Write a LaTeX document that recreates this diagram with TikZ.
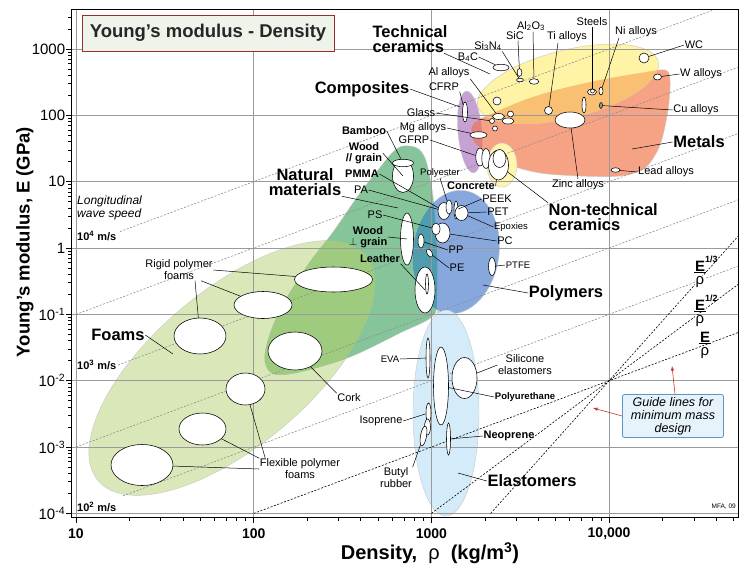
\documentclass[tikz,border=0pt]{standalone}
\usepackage{amsmath}
\usepackage{fontspec}
\setmainfont{Liberation Sans}
\usepackage{xcolor}
\usetikzlibrary{arrows}
\usetikzlibrary{shapes.geometric}
\usetikzlibrary{positioning}

\definecolor{foamc}{HTML}{DAE8B9}
\definecolor{natc}{HTML}{86C49A}
\definecolor{foamnatc}{HTML}{9ECB7E}
\definecolor{polyc}{HTML}{86A8DD}
\definecolor{polynatc}{HTML}{4E9DAE}
\definecolor{elastc}{HTML}{D4ECF9}
\definecolor{compc}{HTML}{C6A2D4}
\definecolor{metc}{HTML}{F6A385}
\definecolor{compmetc}{HTML}{E0807F}
\definecolor{techc}{HTML}{FFF3A6}
\definecolor{techmetc}{HTML}{F9BF72}
\definecolor{ntcc}{HTML}{FFF4B0}
\definecolor{gridc}{HTML}{9A9A9A}
\definecolor{titlec}{HTML}{EEF4EA}
\definecolor{titleb}{HTML}{9B2C2C}
\definecolor{guidec}{HTML}{E6F3FA}
\definecolor{guideb}{HTML}{5E95C5}
\definecolor{arrowc}{HTML}{C0392B}

% envelopes (pixel coordinates)
\newcommand{\foamenv}{(232,368) circle [x radius=175pt, y radius=78pt, rotate=40]}
\newcommand{\natenv}{plot[smooth cycle, tension=0.55] coordinates {(403,146) (417,148) (425,158) (430,178) (434,205) (437,250) (437,295) (433,316) (400,333) (350,357) (300,372) (274,374) (265,362) (268,340) (281,308) (307,266) (333,232) (360,193) (382,165) (393,152)}}
\newcommand{\polyenv}{(456,252) circle [x radius=43pt, y radius=62pt, rotate=-8]}
\newcommand{\elastenv}{(446,413) circle [x radius=33pt, y radius=103pt]}
\newcommand{\compenv}{(470,132) circle [x radius=12pt, y radius=41pt, rotate=5]}
\newcommand{\metenv}{plot[smooth cycle, tension=0.5] coordinates {(473,124) (500,110) (530,98) (560,89) (600,80) (640,73) (665,70) (670,80) (668,110) (660,145) (645,168) (620,176) (580,176) (540,173) (510,165) (488,152) (474,142)}}
\newcommand{\techenv}{(568,84) circle [x radius=93pt, y radius=34pt, rotate=14]}
\newcommand{\ntcenv}{(502,165) circle [x radius=15pt, y radius=22pt]}

\tikzset{wh/.style 2 args={minimum width=#1pt, minimum height=#2pt}}

\begin{document}
\begin{tikzpicture}[x=1pt,y=-1pt]
	%\draw[help lines] (0,0) grid (751,573);
	\useasboundingbox (0,0) rectangle (751,573);

	\tikzstyle{env} = [draw=black!22, line width=0.4pt]
	\tikzstyle{gridl} = [gridc, line width=0.7pt]
	\tikzstyle{axisl} = [black, line width=0.7pt]
	\tikzstyle{wave} = [black!45, line width=0.6pt, dash pattern=on 2pt off 1.6pt]
	\tikzstyle{guide} = [black, line width=0.6pt, dash pattern=on 2pt off 1.6pt]
	\tikzstyle{bub} = [ellipse, draw, fill=white, line width=0.55pt, inner sep=0pt]
	\tikzstyle{lead} = [line width=0.5pt]
	\tikzstyle{lab} = [inner sep=0.5pt, align=center, font=\fontsize{11}{12}\selectfont]
	\tikzstyle{slab} = [lab, font=\fontsize{9.5}{10}\selectfont]
	\tikzstyle{blab} = [lab, font=\bfseries\fontsize{11}{11.5}\selectfont]
	\tikzstyle{fam} = [inner sep=0.5pt, align=left, font=\bfseries\fontsize{16.5}{15}\selectfont]
	\tikzstyle{enum} = [fill=white, inner sep=0.5pt, font=\bfseries\fontsize{15}{15}\selectfont]
	\tikzstyle{eden} = [fill=white, inner sep=0.5pt, font=\fontsize{15}{15}\selectfont]
	\tikzstyle{ebar} = [line width=0.9pt]
	\tikzstyle{redarr} = [->, >=latex, arrowc, line width=0.6pt]

	% material envelopes
	\fill[foamc, env] \foamenv;
	\fill[natc, env] \natenv;
	\begin{scope}
		\clip \foamenv;
		\fill[foamnatc] \natenv;
	\end{scope}
	\fill[polyc, env] \polyenv;
	\begin{scope}
		\clip \polyenv;
		\fill[polynatc] \natenv;
	\end{scope}
	\fill[elastc, env] \elastenv;
	\fill[compc, env] \compenv;
	\fill[metc, env] \metenv;
	\begin{scope}
		\clip \compenv;
		\fill[compmetc] \metenv;
	\end{scope}
	\fill[techc, env] \techenv;
	\begin{scope}
		\clip \techenv;
		\fill[techmetc] \metenv;
	\end{scope}
	\fill[ntcc, env] \ntcenv;

	% axes, grid and guide lines in log units
	\begin{scope}[shift={(-101.7,248)}, x=177.7pt, y=66.35pt]
		\foreach \l in {1,...,4} \draw[gridl] (\l,-4.069) -- (\l,3.5945);
		\foreach \m in {-4,...,3} \draw[gridl] (0.972,\m) -- (4.7254,\m);

		\draw[wave] (1.2476,0.2476) -- (4.5945,3.5945);
		\draw[wave] (1,-1) -- (4.7254,2.7254);
		\draw[wave] (1.237,-1.763) -- (4.7254,1.7254);
		\draw[wave] (1,-3) -- (4.7254,0.7254);
		\draw[wave] (1.264,-3.736) -- (4.7254,-0.2746);

		\draw[guide] (2,-4) -- (4.7254,-1.2746);
		\draw[guide] (3,-4) -- (4.7254,-0.549);
		\draw[guide] (3.3333,-4) -- (4.7254,0.176);

		\draw[axisl, line width=1pt] (0.972,-4.069) rectangle (4.7254,3.5945);
		\foreach \l in {1,...,4} \draw[axisl] (\l,-4.069) -- ++(0,-0.08);
		\foreach \l/\kk in {1/9,2/9,3/9,4/5}
			\foreach \k in {2,...,\kk} \draw[axisl] ({\l+ln(\k)/ln(10)},-4.069) -- ++(0,-0.045);
		\foreach \m in {-4,...,3} \draw[axisl] (0.972,\m) -- ++(-0.026,0);
		\foreach \m/\kk in {-4/9,-3/9,-2/9,-1/9,0/9,1/9,2/9,3/3}
			\foreach \k in {2,...,\kk} \draw[axisl] (0.972,{\m+ln(\k)/ln(10)}) -- ++(-0.015,0);

		\foreach \l/\t in {1/10,2/100,3/1000,4/{10,000}}
			\node[font=\bfseries\fontsize{14}{14}\selectfont] (tx\l) at (\l,-4.3) {\t};
		\foreach \m/\t in {3/1000,2/100,1/10,0/1,-1/10\textsuperscript{-1},-2/10\textsuperscript{-2},-3/10\textsuperscript{-3},-4/10\textsuperscript{-4}}
			\node[anchor=east, inner sep=0pt, font=\fontsize{15}{15}\selectfont] (ty\m) at (0.94,\m) {\t};
	\end{scope}

	% axis titles and notes
	\node[rotate=90, font=\bfseries\fontsize{18.5}{19}\selectfont] (lYaxis) at (25,242) {Young's modulus, E (GPa)};
	\node[font=\bfseries\fontsize{20}{20}\selectfont] (lXaxis) at (430,553) {Density,\ \ {\mdseries ρ}\ \ (kg/m\textsuperscript{3})};
	\node[draw=titleb, fill=titlec, line width=0.9pt, minimum width=252pt, minimum height=36pt, font=\bfseries\fontsize{18.5}{19}\selectfont, text=black!85] (lTitle) at (208,33) {Young's modulus - Density};
	\node[anchor=west, align=left, inner sep=0pt, font=\itshape\fontsize{12}{13}\selectfont] (lLong) at (77,208) {Longitudinal\\wave speed};
	\node[anchor=west, inner sep=0pt, font=\bfseries\fontsize{11}{11}\selectfont] (lC4) at (77,236) {10\textsuperscript{4} m/s};
	\node[anchor=west, inner sep=0pt, font=\bfseries\fontsize{11}{11}\selectfont] (lC3) at (77,365) {10\textsuperscript{3} m/s};
	\node[anchor=west, inner sep=0pt, font=\bfseries\fontsize{11}{11}\selectfont] (lC2) at (77,507) {10\textsuperscript{2} m/s};
	\node[anchor=east, inner sep=0pt, font=\fontsize{6.5}{6.5}\selectfont] (lMFA) at (736,507) {MFA, 09};

	% guide line labels: numerator, bar, denominator
	\node[enum, anchor=south] (lE3n) at (700,272) {E\rlap{\raisebox{1.05ex}{\fontsize{9}{9}\selectfont 1/3}}};
	\node[eden, anchor=north] (lE3d) at (700,275.5) {ρ};
	\draw[ebar] ([xshift=-6pt]lE3n.south) -- ([xshift=6pt]lE3n.south);
	\node[enum, anchor=south] (lE2n) at (700,311) {E\rlap{\raisebox{1.05ex}{\fontsize{9}{9}\selectfont 1/2}}};
	\node[eden, anchor=north] (lE2d) at (700,314.5) {ρ};
	\draw[ebar] ([xshift=-6pt]lE2n.south) -- ([xshift=6pt]lE2n.south);
	\node[enum, anchor=south] (lE1n) at (705,343) {E};
	\node[eden, anchor=north] (lE1d) at (705,346.5) {ρ};
	\draw[ebar] ([xshift=-6pt]lE1n.south) -- ([xshift=6pt]lE1n.south);

	\node[draw=guideb, fill=guidec, rounded corners=2pt, line width=0.8pt, minimum width=101pt, minimum height=43pt, inner sep=1pt, align=center, font=\itshape\fontsize{12.5}{13}\selectfont] (lGuide) at (673,416) {Guide lines for\\minimum mass\\design};
	\coordinate (aGuideA) at (593,408);
	\coordinate (aGuideB) at (672,366);
	\draw[redarr] (lGuide.west) -- (aGuideA);
	\draw[redarr] ([xshift=2pt]lGuide.north) -- (aGuideB);

	% bubbles: ceramics and metals
	\node[bub, wh={16}{6.5}] (bB4C) at (501,67.5) {};
	\node[bub, wh={4.7}{8}] (bSiC) at (519.5,72.5) {};
	\node[bub, wh={7}{3.5}] (bSiN) at (520,80) {};
	\node[bub, wh={9.5}{5.5}] (bAlO) at (534,81.5) {};
	\node[bub, wh={8}{8}] (bTi) at (548.5,110.5) {};
	\node[bub, wh={9}{6}] (bSteel) at (592,92) {};
	\node[bub, wh={4}{4}] (bSteelB) at (592.5,91) {};
	\node[bub, wh={4}{8}] (bNi) at (601,91) {};
	\node[bub, wh={3}{6}, fill=black!40] (bCu) at (601,105.5) {};
	\node[bub, wh={4}{16}] (bTall) at (584,105) {};
	\node[bub, wh={10}{10}] (bWC) at (644,58) {};
	\node[bub, wh={8}{6}] (bW) at (657.5,77) {};
	\node[bub, wh={30}{16}] (bZinc) at (570,120) {};
	\node[bub, wh={9}{4.5}] (bLead) at (615.5,170) {};
	\node[bub, wh={8}{8}] (bCirc) at (497,101) {};
	\node[bub, wh={12}{6}] (bAlA) at (498.5,116.5) {};
	\node[bub, wh={12}{6}] (bAlB) at (508,121) {};
	\node[bub, wh={6}{6}] (bAlC) at (510.5,114) {};
	\node[bub, wh={5}{5}] (bGlass) at (492,121) {};
	\node[bub, wh={5}{5}] (bAlE) at (495,128.5) {};
	\node[bub, wh={5}{20}] (bCFRP) at (465,112) {};
	\node[bub, wh={17}{6.5}] (bMg) at (478.5,135) {};
	\node[bub, wh={8.5}{18}] (bGFRP) at (480,157) {};
	\node[bub, wh={8.5}{20}] (bGFRPb) at (486,158.5) {};
	\node[bub, wh={20}{30}] (bConc) at (498.5,165) {};
	\node[bub, wh={13}{18}] (bConcB) at (499.5,158.5) {};

	% bubbles: natural materials and polymers
	\node[bub, wh={21}{33}] (bWoodPar) at (403,176) {};
	\node[bub, wh={21}{7.5}] (bBamboo) at (403,163) {};
	\node[bub, wh={13}{52}] (bWoodPerp) at (407,239) {};
	\node[bub, wh={20}{46}] (bLeather) at (425,290) {};
	\node[bub, wh={3}{20}] (bLeatherB) at (427,284) {};
	\node[bub, wh={12}{17}] (bPMMA) at (444,211) {};
	\node[bub, wh={6}{14}] (bPolyE) at (449,207) {};
	\node[bub, wh={4}{18}] (bPEEK) at (456,210) {};
	\node[bub, wh={13}{15}] (bPET) at (461.5,213) {};
	\node[bub, wh={15}{20}] (bPC) at (442.5,233) {};
	\node[bub, wh={8}{12}] (bEpoxy) at (436,229) {};
	\node[bub, wh={6}{14}] (bPP) at (421,241) {};
	\node[bub, wh={5}{9}, rotate=30] (bPE) at (429.5,253) {};
	\node[bub, wh={7}{18}] (bPTFE) at (492,266.5) {};

	% bubbles: foams and elastomers
	\node[bub, wh={78}{25}] (bR1) at (333.5,279.5) {};
	\node[bub, wh={58}{27}] (bR2) at (263,305) {};
	\node[bub, wh={52}{36}] (bR3) at (200,336) {};
	\node[bub, wh={54}{38}] (bCork) at (295,351) {};
	\node[bub, wh={39}{32}] (bF1) at (245.5,389) {};
	\node[bub, wh={47}{32}] (bF2) at (202.5,429) {};
	\node[bub, wh={62}{41}] (bF3) at (142,465) {};
	\node[bub, wh={4}{40}] (bEVA) at (428,358) {};
	\node[bub, wh={15}{78}] (bPU) at (441,386) {};
	\node[bub, wh={25}{41}] (bSil) at (464.5,378) {};
	\node[bub, wh={5}{20}] (bIso) at (428.5,413) {};
	\node[bub, wh={6}{16}] (bElB) at (427.5,427) {};
	\node[bub, wh={6}{20}, rotate=-10] (bButyl) at (423.5,436) {};
	\node[bub, wh={4}{32}] (bNeo) at (448.5,439) {};

	% labels
	\node[fam] (lTech) at (410,39) {Technical\\ceramics};
	\node[lab] (lB4C) at (468,57) {B\textsubscript{4}C};
	\node[lab] (lSiN) at (488,46) {Si\textsubscript{3}N\textsubscript{4}};
	\node[lab] (lSiC) at (515,36) {SiC};
	\node[lab] (lAlO) at (531,26) {Al\textsubscript{2}O\textsubscript{3}};
	\node[lab] (lTi) at (567,37) {Ti alloys};
	\node[lab] (lSteel) at (592,22) {Steels};
	\node[lab] (lNi) at (636,32) {Ni alloys};
	\node[lab] (lWC) at (694,45) {WC};
	\node[lab] (lW) at (701,74) {W alloys};
	\node[lab] (lCu) at (696,110) {Cu alloys};
	\node[fam] (lMet) at (699,142) {Metals};
	\node[lab] (lLead) at (666,172) {Lead alloys};
	\node[lab] (lZinc) at (578,185) {Zinc alloys};
	\node[lab] (lAl) at (449,73) {Al alloys};
	\node[lab] (lCFRP) at (444,87) {CFRP};
	\node[fam] (lComp) at (362,89) {Composites};
	\node[lab] (lGlass) at (421,113) {Glass};
	\node[lab] (lMg) at (423,128) {Mg alloys};
	\node[lab] (lGFRP) at (414,140) {GFRP};
	\node[fam, anchor=west] (lNTC) at (548,217) {Non-technical\\ceramics};
	\node[blab] (lConc) at (471,186) {Concrete};
	\node[slab] (lPolyE) at (440,173) {Polyester};
	\node[blab] (lBamboo) at (364,131) {Bamboo};
	\node[blab] (lWoodPar) at (364,153) {Wood\\// grain};
	\node[blab] (lPMMA) at (362,174) {PMMA};
	\node[lab] (lPA) at (361,190) {PA};
	\node[fam, align=center] (lNat) at (305,182) {Natural\\materials};
	\node[lab] (lPS) at (375,215) {PS};
	\node[blab] (lWoodPerp) at (368,237) {Wood\\$\perp$ grain};
	\node[blab] (lLeather) at (380,259) {Leather};
	\node[lab] (lPEEK) at (497,199) {PEEK};
	\node[lab] (lPET) at (498,212) {PET};
	\node[slab] (lEpoxy) at (511,227) {Epoxies};
	\node[lab] (lPC) at (505,241) {PC};
	\node[lab] (lPP) at (456,250) {PP};
	\node[lab] (lPE) at (457,268) {PE};
	\node[slab] (lPTFE) at (518,265) {PTFE};
	\node[fam] (lPoly) at (566,293) {Polymers};
	\node[lab] (lRigid) at (179,270) {Rigid polymer\\foams};
	\node[fam] (lFoams) at (118,335) {Foams};
	\node[lab] (lCork) at (349,398) {Cork};
	\node[lab] (lFlex) at (300,469) {Flexible polymer\\foams};
	\node[slab] (lEVA) at (390,359) {EVA};
	\node[lab] (lSil) at (525,365) {Silicone\\elastomers};
	\node[blab, font=\bfseries\fontsize{9.5}{10}\selectfont] (lPU) at (525,397) {Polyurethane};
	\node[lab] (lIso) at (381,421) {Isoprene};
	\node[blab] (lNeo) at (509,436) {Neoprene};
	\node[lab] (lButyl) at (396,478) {Butyl\\rubber};
	\node[fam] (lElast) at (532,481) {Elastomers};

	% free ends inside envelopes
	\coordinate (cTech) at (490,74);
	\coordinate (cMet) at (632,149);
	\coordinate (cComp) at (460,107);
	\coordinate (cNat) at (398,208);
	\coordinate (cPoly) at (483,285);
	\coordinate (cFoams) at (173,354);
	\coordinate (cElast) at (458,473);

	% leader lines
	\draw[lead] ([xshift=-4pt]lTech.south east) -- (cTech);
	\draw[lead] (lB4C.east) -- (bB4C);
	\draw[lead] (lSiN.south east) -- (bSiN);
	\draw[lead] ([xshift=3pt]lSiC.south) -- (bSiC);
	\draw[lead] ([xshift=2pt]lAlO.south) -- (bAlO);
	\draw[lead] ([xshift=-9pt]lTi.south) -- (bTi);
	\draw[lead] (lSteel.south) -- (bSteel);
	\draw[lead] ([xshift=-17pt]lNi.south) -- (bNi);
	\draw[lead] (lWC.west) -- (bWC);
	\draw[lead] (lW.west) -- (bW);
	\draw[lead] (lCu.west) -- (bCu);
	\draw[lead] (lMet.west) -- (cMet);
	\draw[lead] (lLead.west) -- (bLead);
	\draw[lead] (lZinc.north) -- (bZinc);
	\draw[lead] (lAl.south east) -- (bAlA);
	\draw[lead] (lCFRP.south east) -- (bCFRP);
	\draw[lead] (lComp.east) -- (cComp);
	\draw[lead] (lGlass.east) -- (bGlass);
	\draw[lead] (lMg.east) -- (bMg);
	\draw[lead] (lGFRP.east) -- (bGFRP);
	\draw[lead] (lNTC.north west) -- (bConc);
	\draw[lead] (lConc.east) -- (bConc);
	\draw[lead] (lPolyE.south) -- (bPolyE);
	\draw[lead] (lBamboo.east) -- (bBamboo);
	\draw[lead] (lWoodPar.east) -- (bWoodPar.center);
	\draw[lead] (lPMMA.east) -- (bPMMA);
	\draw[lead] (lPA.east) -- (bPMMA);
	\draw[lead] (lNat.south east) -- (cNat);
	\draw[lead] (lPS.east) -- (bEpoxy);
	\draw[lead] (lWoodPerp.east) -- (bWoodPerp.center);
	\draw[lead] (lLeather.south east) -- (bLeather.center);
	\draw[lead] (lPEEK.west) -- (bPEEK);
	\draw[lead] (lPET.west) -- (bPET);
	\draw[lead] (lEpoxy.west) -- (bPET);
	\draw[lead] (lPC.west) -- (bPC);
	\draw[lead] (lPP.west) -- (bPP);
	\draw[lead] (lPE.west) -- (bPE);
	\draw[lead] (lPTFE.west) -- (bPTFE);
	\draw[lead] (lPoly.west) -- (cPoly);
	\draw[lead] (lRigid.east) -- (bR1);
	\draw[lead] ([xshift=22pt]lRigid.south) -- (bR2);
	\draw[lead] ([xshift=16pt]lRigid.south) -- (bR3);
	\draw[lead] (lFoams.east) -- (cFoams);
	\draw[lead] (lCork.north west) -- (bCork);
	\draw[lead] (lFlex.west) -- (bF3);
	\draw[lead] (lFlex.north west) -- (bF2);
	\draw[lead] ([xshift=6pt]lFlex.north west) -- (bF1);
	\draw[lead] (lEVA.east) -- (bEVA);
	\draw[lead] (lSil.west) -- (bSil);
	\draw[lead] (lPU.west) -- (bPU);
	\draw[lead] (lIso.east) -- (bIso);
	\draw[lead] (lNeo.west) -- (bNeo);
	\draw[lead] (lButyl.north east) -- (bButyl);
	\draw[lead] (lElast.west) -- (cElast);

\end{tikzpicture}
\end{document}
